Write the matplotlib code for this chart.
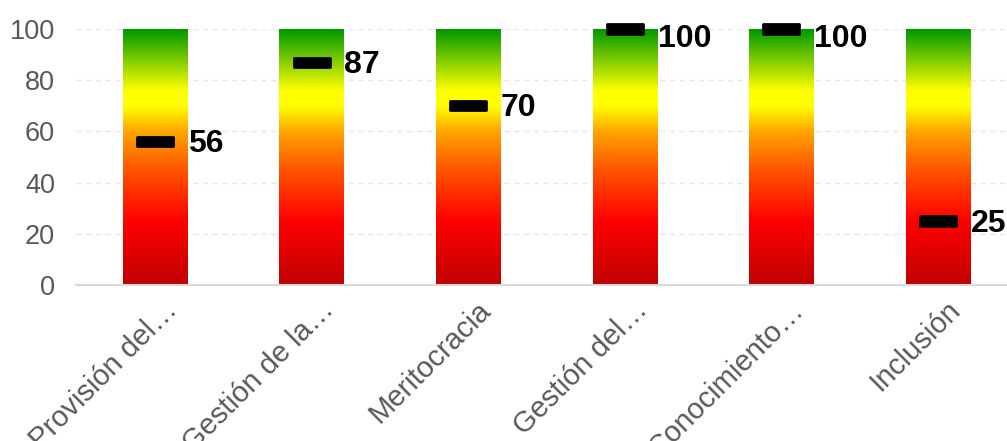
import numpy as np
import matplotlib
matplotlib.use("Agg")
from matplotlib import pyplot as plt
from matplotlib.colors import LinearSegmentedColormap
from matplotlib.patches import Rectangle
from matplotlib.transforms import ScaledTranslation

categories = ["Provisión del…", "Gestión de la…", "Meritocracia",
              "Gestión del…", "Conocimiento…", "Inclusión"]
scores = [56, 87, 70, 100, 100, 25]
scale_max = 100
y_ticks = [0, 20, 40, 60, 80, 100]

plt.rcParams["font.family"] = ["Liberation Sans", "DejaVu Sans"]

# red -> orange -> yellow -> green along the 0..100 scale
stops = [(0.00, "#c00000"), (0.25, "#ff0000"), (0.45, "#ff5500"),
         (0.60, "#ffa500"), (0.70, "#ffff00"), (0.76, "#ffff00"),
         (1.00, "#009900")]
cmap = LinearSegmentedColormap.from_list("traffic", stops)
gradient = np.linspace(0, 1, 256).reshape(-1, 1)

fig = plt.figure(figsize=(10.07, 4.41), dpi=100)
ax = fig.add_axes([0.0755, 0.3537, 0.9245, 0.5803])

bar_w = 0.41
x = np.arange(len(categories))
for xi, val in zip(x, scores):
    ax.imshow(gradient, cmap=cmap, origin="lower", aspect="auto",
              extent=[xi - bar_w / 2, xi + bar_w / 2, 0, scale_max],
              interpolation="bilinear", zorder=2)
    mw, mh = 0.23, 3.6
    ax.add_patch(Rectangle((xi - mw / 2, val - mh / 2), mw, mh,
                           facecolor="black", edgecolor="black", linewidth=2,
                           joinstyle="round", zorder=4, clip_on=False))
    # keep the label inside the plot area at the top of the scale
    label_y = min(val, scale_max - 3) - 1
    ax.text(xi + bar_w / 2 + 0.005, label_y, str(val), ha="left", va="center",
            fontsize=23, fontweight="bold", color="black", zorder=5,
            clip_on=False)

ax.set_xlim(-0.504, 5.44)
ax.set_ylim(0, scale_max)
ax.set_yticks(y_ticks)
ax.yaxis.grid(True, color="#e8e8e8", linestyle=(0, (4, 3)), linewidth=1, zorder=0)
ax.set_axisbelow(True)
ax.tick_params(axis="y", length=0, pad=15, labelsize=19.5, labelcolor="#595959")
ax.tick_params(axis="x", length=0, pad=2, labelsize=21, labelcolor="#595959")

ax.set_xticks(x)
ax.set_xticklabels(categories, rotation=45, ha="right", va="top",
                   rotation_mode="anchor")
offset = ScaledTranslation(0.08, -0.08, fig.dpi_scale_trans)
for lbl in ax.get_xticklabels():
    lbl.set_transform(lbl.get_transform() + offset)

for side in ["top", "right", "left"]:
    ax.spines[side].set_visible(False)
ax.spines["bottom"].set_color("#d9d9d9")
ax.spines["bottom"].set_linewidth(1.5)

fig.savefig("out.png", dpi=100)
